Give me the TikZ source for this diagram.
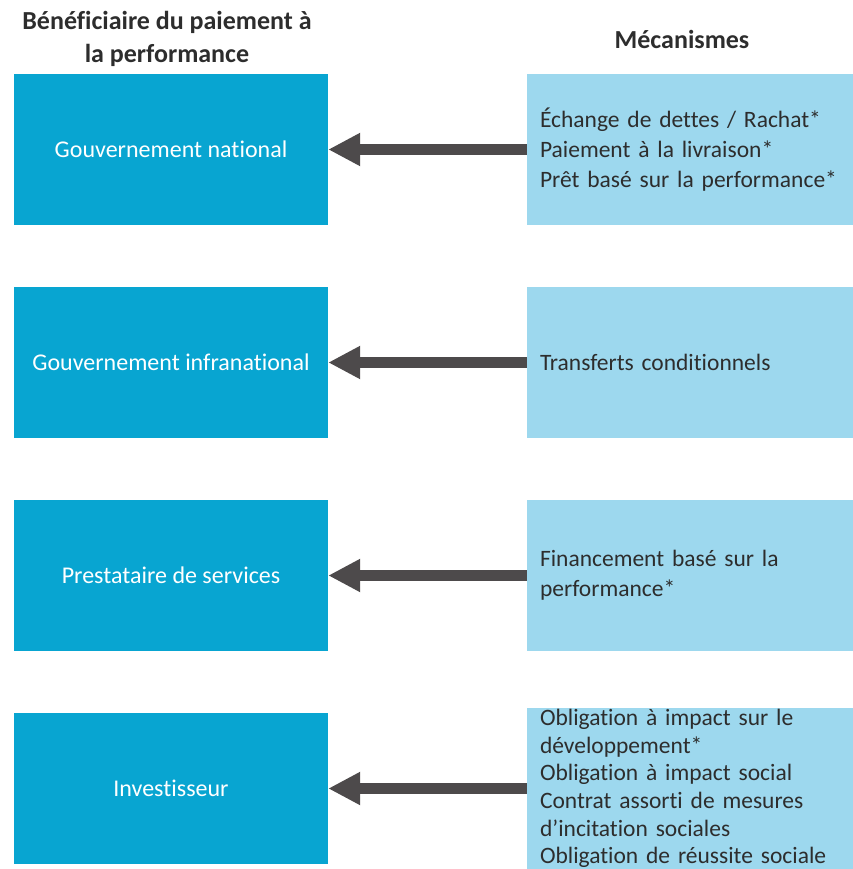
\documentclass[tikz,border=0pt]{standalone}
\usepackage{fontspec}
\setmainfont{Carlito}[Ligatures=NoCommon]
\usepackage{xcolor}
\usetikzlibrary{arrows.meta, positioning}
\definecolor{benefBlue}{RGB}{8,165,209}
\definecolor{mecaBlue}{RGB}{157,216,238}
\definecolor{arrowGray}{RGB}{77,74,75}
\definecolor{textGray}{RGB}{45,45,45}

\begin{document}
\begin{tikzpicture}[
    x=1pt,y=-1pt,
    benef/.style={fill=benefBlue,minimum width=314pt,minimum height=151pt,
      inner sep=0pt,text=white,font=\fontsize{24}{28}\selectfont},
    meca/.style={fill=mecaBlue,minimum height=151pt,
      inner xsep=13pt,inner ysep=0pt,text width=312pt,align=left,
      text=textGray,font=\fontsize{23.5}{30}\selectfont},
    heading/.style={align=center,text=textGray,font=\bfseries\fontsize{26}{33}\selectfont},
    arrow/.style={-{Triangle[length=32pt,width=31pt]},line width=11pt,arrowGray}
  ]
  \useasboundingbox (0,0) rectangle (852,869);

  % headings
  \node[heading] (hbenef) at (167,39) {Bénéficiaire du paiement à\\la performance};
  \node[heading] (hmeca) at (682,39) {Mécanismes};

  % row 1
  \node[benef] (b1) at (171,149.5) {Gouvernement national};
  \node[meca] (m1) at (696,149.5) {Échange de dettes / Rachat*\\Paiement à la livraison*\\Prêt basé sur la performance*};
  \draw[arrow] (m1.west) -- (b1.east);

  % row 2
  \node[benef] (b2) at (171,362.5) {Gouvernement infranational};
  \node[meca] (m2) at (696,362.5) {Transferts conditionnels};
  \draw[arrow] (m2.west) -- (b2.east);

  % row 3
  \node[benef] (b3) at (171,575.5) {Prestataire de services};
  \node[meca] (m3) at (696,575.5) {Financement basé sur la\\performance*};
  \draw[arrow] (m3.west) -- (b3.east);

  % row 4
  \node[benef] (b4) at (171,788.5) {Investisseur};
  \node[meca,minimum height=161pt,font=\fontsize{23.5}{27.6}\selectfont] (m4) at (696,788.5) {Obligation à impact sur le\\développement*\\Obligation à impact social\\Contrat assorti de mesures\\d’incitation sociales\\Obligation de réussite sociale};
  \draw[arrow] (m4.west) -- (b4.east);
\end{tikzpicture}
\end{document}
